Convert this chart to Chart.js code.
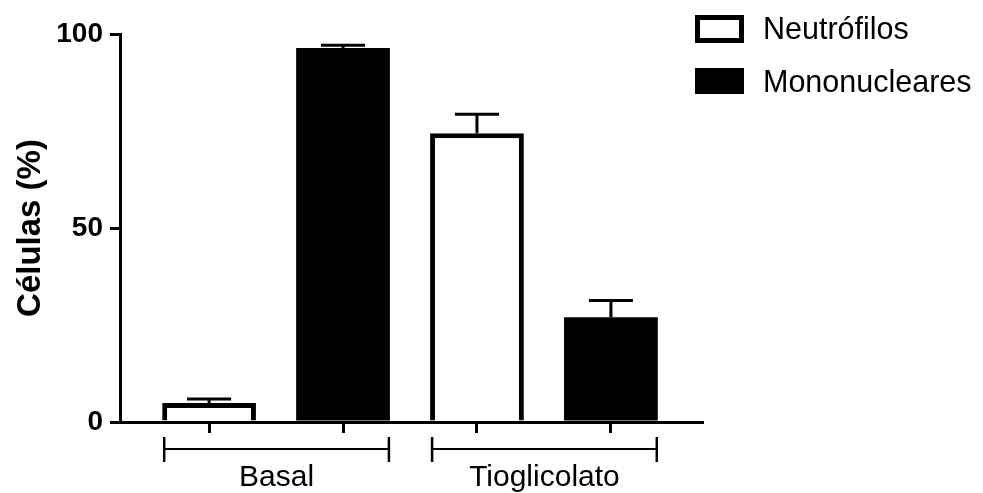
<!DOCTYPE html>
<html>
<head>
<meta charset="utf-8">
<script src="https://cdn.jsdelivr.net/npm/chart.js@4"></script>
<style>
    body { margin: 0; background: #fff; }
</style>
</head>
<body>
<canvas id="cells" width="983" height="493"></canvas>
<script>
// grupos e series
const categories = ['Basal', 'Tioglicolato'];
const seriesNames = ['Neutrófilos', 'Mononucleares'];
const neutrofilos = [4.9, 74.4];
const neutrofilosSem = [1.0, 4.9];
const mononucleares = [96.4, 27.0];
const mononuclearesSem = [0.7, 4.3];
const yTicks = [0, 50, 100];

const FONT = '"Liberation Sans", Arial, sans-serif';

// cada barra na sua posicao: grupo * 2 + serie
function toPoints(values, serie) {
    return values.map((v, g) => ({x: g * 2 + serie, y: v}));
}

// barras de erro (so para cima), chaves dos grupos e legenda
const extras = {
    id: 'extras',
    afterDatasetsDraw(chart) {
        const ctx = chart.ctx;
        const yScale = chart.scales.y;
        ctx.save();
        ctx.strokeStyle = '#000';
        ctx.lineWidth = 3;
        chart.data.datasets.forEach((ds, i) => {
            const meta = chart.getDatasetMeta(i);
            meta.data.forEach((bar, j) => {
                const top = yScale.getPixelForValue(ds.data[j].y + ds.sem[j]);
                const half = bar.width * 0.235;
                ctx.beginPath();
                ctx.moveTo(bar.x, bar.y);
                ctx.lineTo(bar.x, top);
                ctx.moveTo(bar.x - half, top);
                ctx.lineTo(bar.x + half, top);
                ctx.stroke();
            });
        });

        // chaves embaixo de cada grupo
        const first = chart.getDatasetMeta(0).data;
        const second = chart.getDatasetMeta(1).data;
        ctx.fillStyle = '#000';
        ctx.font = '30px ' + FONT;
        ctx.textAlign = 'center';
        ctx.textBaseline = 'alphabetic';
        categories.forEach((cat, g) => {
            const left = first[g].x - first[g].width / 2 + 2;
            const right = second[g].x + second[g].width / 2 - 1;
            ctx.lineWidth = 2;
            ctx.beginPath();
            ctx.moveTo(left, 449);
            ctx.lineTo(right, 449);
            ctx.stroke();
            ctx.lineWidth = 2.5;
            ctx.beginPath();
            ctx.moveTo(left, 437);
            ctx.lineTo(left, 462);
            ctx.moveTo(right, 437);
            ctx.lineTo(right, 462);
            ctx.stroke();
            ctx.fillText(cat, (left + right) / 2, 486);
        });

        // legenda
        ctx.textAlign = 'left';
        ctx.font = '30.5px ' + FONT;
        const boxes = [{y: 15, h: 28, base: 39}, {y: 68, h: 26, base: 92}];
        chart.data.datasets.forEach((ds, i) => {
            const b = boxes[i];
            ctx.fillStyle = '#000';
            ctx.fillRect(695, b.y, 49, b.h);
            ctx.fillStyle = ds.backgroundColor;
            ctx.fillRect(700, b.y + 5, 39, b.h - 10);
            ctx.fillStyle = '#000';
            ctx.fillText(ds.label, 763, b.base);
        });
        ctx.restore();
    }
};

const chart = new Chart(document.getElementById('cells'), {
    type: 'bar',
    data: {
        datasets: [
            {
                label: seriesNames[0],
                data: toPoints(neutrofilos, 0),
                sem: neutrofilosSem,
                backgroundColor: '#fff',
                borderColor: '#000',
                borderWidth: 5
            },
            {
                label: seriesNames[1],
                data: toPoints(mononucleares, 1),
                sem: mononuclearesSem,
                backgroundColor: '#000',
                borderColor: '#000',
                borderWidth: 0
            }
        ]
    },
    options: {
        responsive: false,
        devicePixelRatio: 1,
        animation: false,
        grouped: false,
        barPercentage: 0.7,
        categoryPercentage: 1,
        borderSkipped: 'start',
        layout: {padding: {top: 34, right: 281, left: 0, bottom: 0}},
        plugins: {
            legend: {display: false},
            tooltip: {enabled: false}
        },
        scales: {
            x: {
                type: 'linear',
                offset: false,
                min: -0.665,
                max: 3.68,
                afterBuildTicks: scale => {
                    scale.ticks = [0, 1, 2, 3].map(v => ({value: v}));
                },
                afterFit: scale => { scale.height = 71; },
                ticks: {display: false},
                grid: {
                    offset: false,
                    drawOnChartArea: false,
                    color: '#000',
                    lineWidth: 3,
                    tickLength: 11,
                    tickWidth: 3,
                    tickColor: '#000'
                },
                border: {display: true, color: '#000', width: 3}
            },
            y: {
                min: 0,
                max: 100,
                afterBuildTicks: scale => {
                    scale.ticks = yTicks.map(v => ({value: v}));
                },
                afterFit: scale => { scale.width = 120; },
                ticks: {
                    color: '#000',
                    padding: 7,
                    font: {family: FONT, size: 28, weight: 'bold'}
                },
                grid: {
                    drawOnChartArea: false,
                    color: '#000',
                    lineWidth: 3,
                    tickLength: 10,
                    tickWidth: 3,
                    tickColor: '#000'
                },
                border: {display: true, color: '#000', width: 3},
                title: {
                    display: true,
                    text: 'Células (%)',
                    color: '#000',
                    padding: {top: 11, bottom: 0},
                    font: {family: FONT, size: 33, weight: 'bold'}
                }
            }
        }
    },
    plugins: [extras]
});
</script>
</body>
</html>
